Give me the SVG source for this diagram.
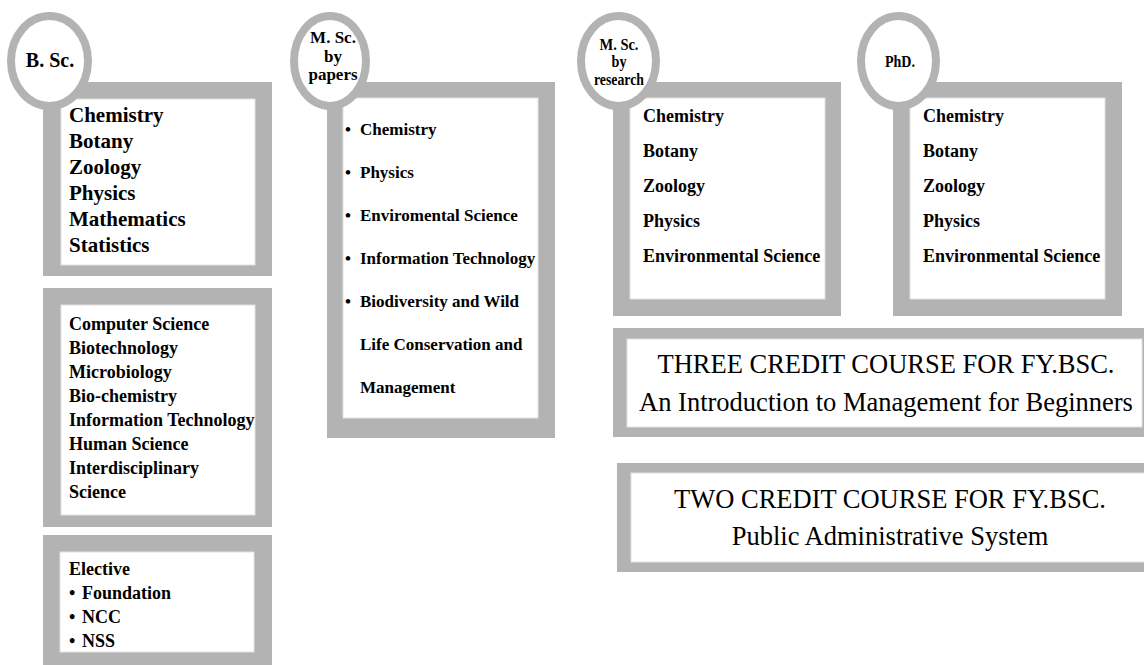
<svg xmlns="http://www.w3.org/2000/svg" width="1144" height="665" viewBox="0 0 1144 665" font-family="Liberation Serif, serif">
<style>
.outer{fill:#b3b3b3}
.inner{fill:#ffffff;stroke:#e2e2e2;stroke-width:1}
.circ{fill:#ffffff;stroke:#b3b3b3;stroke-width:8}
.b{font-weight:bold}
.reg{font-size:26.5px;text-anchor:middle}
.c{text-anchor:middle}
</style>
<rect width="1144" height="665" fill="#ffffff"/>
<g id="connectors"></g>
<g id="bsc-core">
<rect class="outer" x="43" y="82" width="229" height="194"/>
<rect class="inner" x="61" y="99" width="194" height="166"/>
<g class="b" font-size="21">
<text x="69" y="122">Chemistry</text>
<text x="69" y="148">Botany</text>
<text x="69" y="174">Zoology</text>
<text x="69" y="200">Physics</text>
<text x="69" y="226">Mathematics</text>
<text x="69" y="252">Statistics</text>
</g>
</g>
<g id="bsc-applied">
<rect class="outer" x="43" y="288" width="229" height="239"/>
<rect class="inner" x="61" y="305" width="194" height="210"/>
<g class="b" font-size="18">
<text x="69" y="330">Computer Science</text>
<text x="69" y="354">Biotechnology</text>
<text x="69" y="378">Microbiology</text>
<text x="69" y="402">Bio-chemistry</text>
<text x="69" y="426">Information Technology</text>
<text x="69" y="450">Human Science</text>
<text x="69" y="474">Interdisciplinary</text>
<text x="69" y="498">Science</text>
</g>
</g>
<g id="bsc-elective">
<rect class="outer" x="43" y="535" width="229" height="130"/>
<rect class="inner" x="60" y="552" width="194" height="100"/>
<g class="b" font-size="18">
<text x="69" y="575">Elective</text>
<text x="69" y="599">•<tspan x="82">Foundation</tspan></text>
<text x="69" y="623">•<tspan x="82">NCC</tspan></text>
<text x="69" y="647">•<tspan x="82">NSS</tspan></text>
</g>
</g>
<g id="msc-papers">
<rect class="outer" x="327" y="82" width="228" height="356"/>
<rect class="inner" x="343" y="98" width="195" height="320"/>
<g class="b" font-size="17">
<text x="345" y="135">•<tspan x="360">Chemistry</tspan></text>
<text x="345" y="178">•<tspan x="360">Physics</tspan></text>
<text x="345" y="221">•<tspan x="360">Enviromental Science</tspan></text>
<text x="345" y="264">•<tspan x="360">Information Technology</tspan></text>
<text x="345" y="307">•<tspan x="360">Biodiversity and Wild</tspan></text>
<text x="360" y="350">Life Conservation and</text>
<text x="360" y="393">Management</text>
</g>
</g>
<g id="msc-research">
<rect class="outer" x="613" y="82" width="228" height="234"/>
<rect class="inner" x="630" y="98" width="195" height="201"/>
<g class="b" font-size="18">
<text x="643" y="122">Chemistry</text>
<text x="643" y="157">Botany</text>
<text x="643" y="192">Zoology</text>
<text x="643" y="227">Physics</text>
<text x="643" y="262">Environmental Science</text>
</g>
</g>
<g id="phd">
<rect class="outer" x="893" y="82" width="229" height="234"/>
<rect class="inner" x="910" y="98" width="195" height="201"/>
<g class="b" font-size="18">
<text x="923" y="122">Chemistry</text>
<text x="923" y="157">Botany</text>
<text x="923" y="192">Zoology</text>
<text x="923" y="227">Physics</text>
<text x="923" y="262">Environmental Science</text>
</g>
</g>
<g id="three-credit">
<rect class="outer" x="613" y="328" width="540" height="109"/>
<rect class="inner" x="627" y="339" width="515" height="88"/>
<text class="reg" x="886" y="373">THREE CREDIT COURSE FOR FY.BSC.</text>
<text class="reg" x="886" y="411">An Introduction to Management for Beginners</text>
</g>
<g id="two-credit">
<rect class="outer" x="617" y="463" width="540" height="109"/>
<rect class="inner" x="631" y="473" width="530" height="89"/>
<text class="reg" x="890" y="508">TWO CREDIT COURSE FOR FY.BSC.</text>
<text class="reg" x="890" y="545">Public Administrative System</text>
</g>
<g id="bsc-label">
<ellipse class="circ" cx="49.5" cy="61" rx="38.5" ry="45"/>
<text class="b c" x="50" y="67" font-size="20">B. Sc.</text>
</g>
<g id="msc-papers-label">
<ellipse class="circ" cx="330" cy="61" rx="36" ry="45"/>
<g class="b c" font-size="17">
<text x="333" y="43">M. Sc.</text>
<text x="333" y="62">by</text>
<text x="333" y="80">papers</text>
</g>
</g>
<g id="msc-research-label">
<ellipse class="circ" cx="618.5" cy="61" rx="37.5" ry="45"/>
<g class="b c" font-size="16">
<text x="619" y="50" textLength="39" lengthAdjust="spacingAndGlyphs">M. Sc.</text>
<text x="619" y="67" textLength="15" lengthAdjust="spacingAndGlyphs">by</text>
<text x="619" y="85" textLength="50" lengthAdjust="spacingAndGlyphs">research</text>
</g>
</g>
<g id="phd-label">
<ellipse class="circ" cx="898.5" cy="61" rx="37.5" ry="45"/>
<text class="b c" x="900" y="67" font-size="16" textLength="30" lengthAdjust="spacingAndGlyphs">PhD.</text>
</g>
</svg>
